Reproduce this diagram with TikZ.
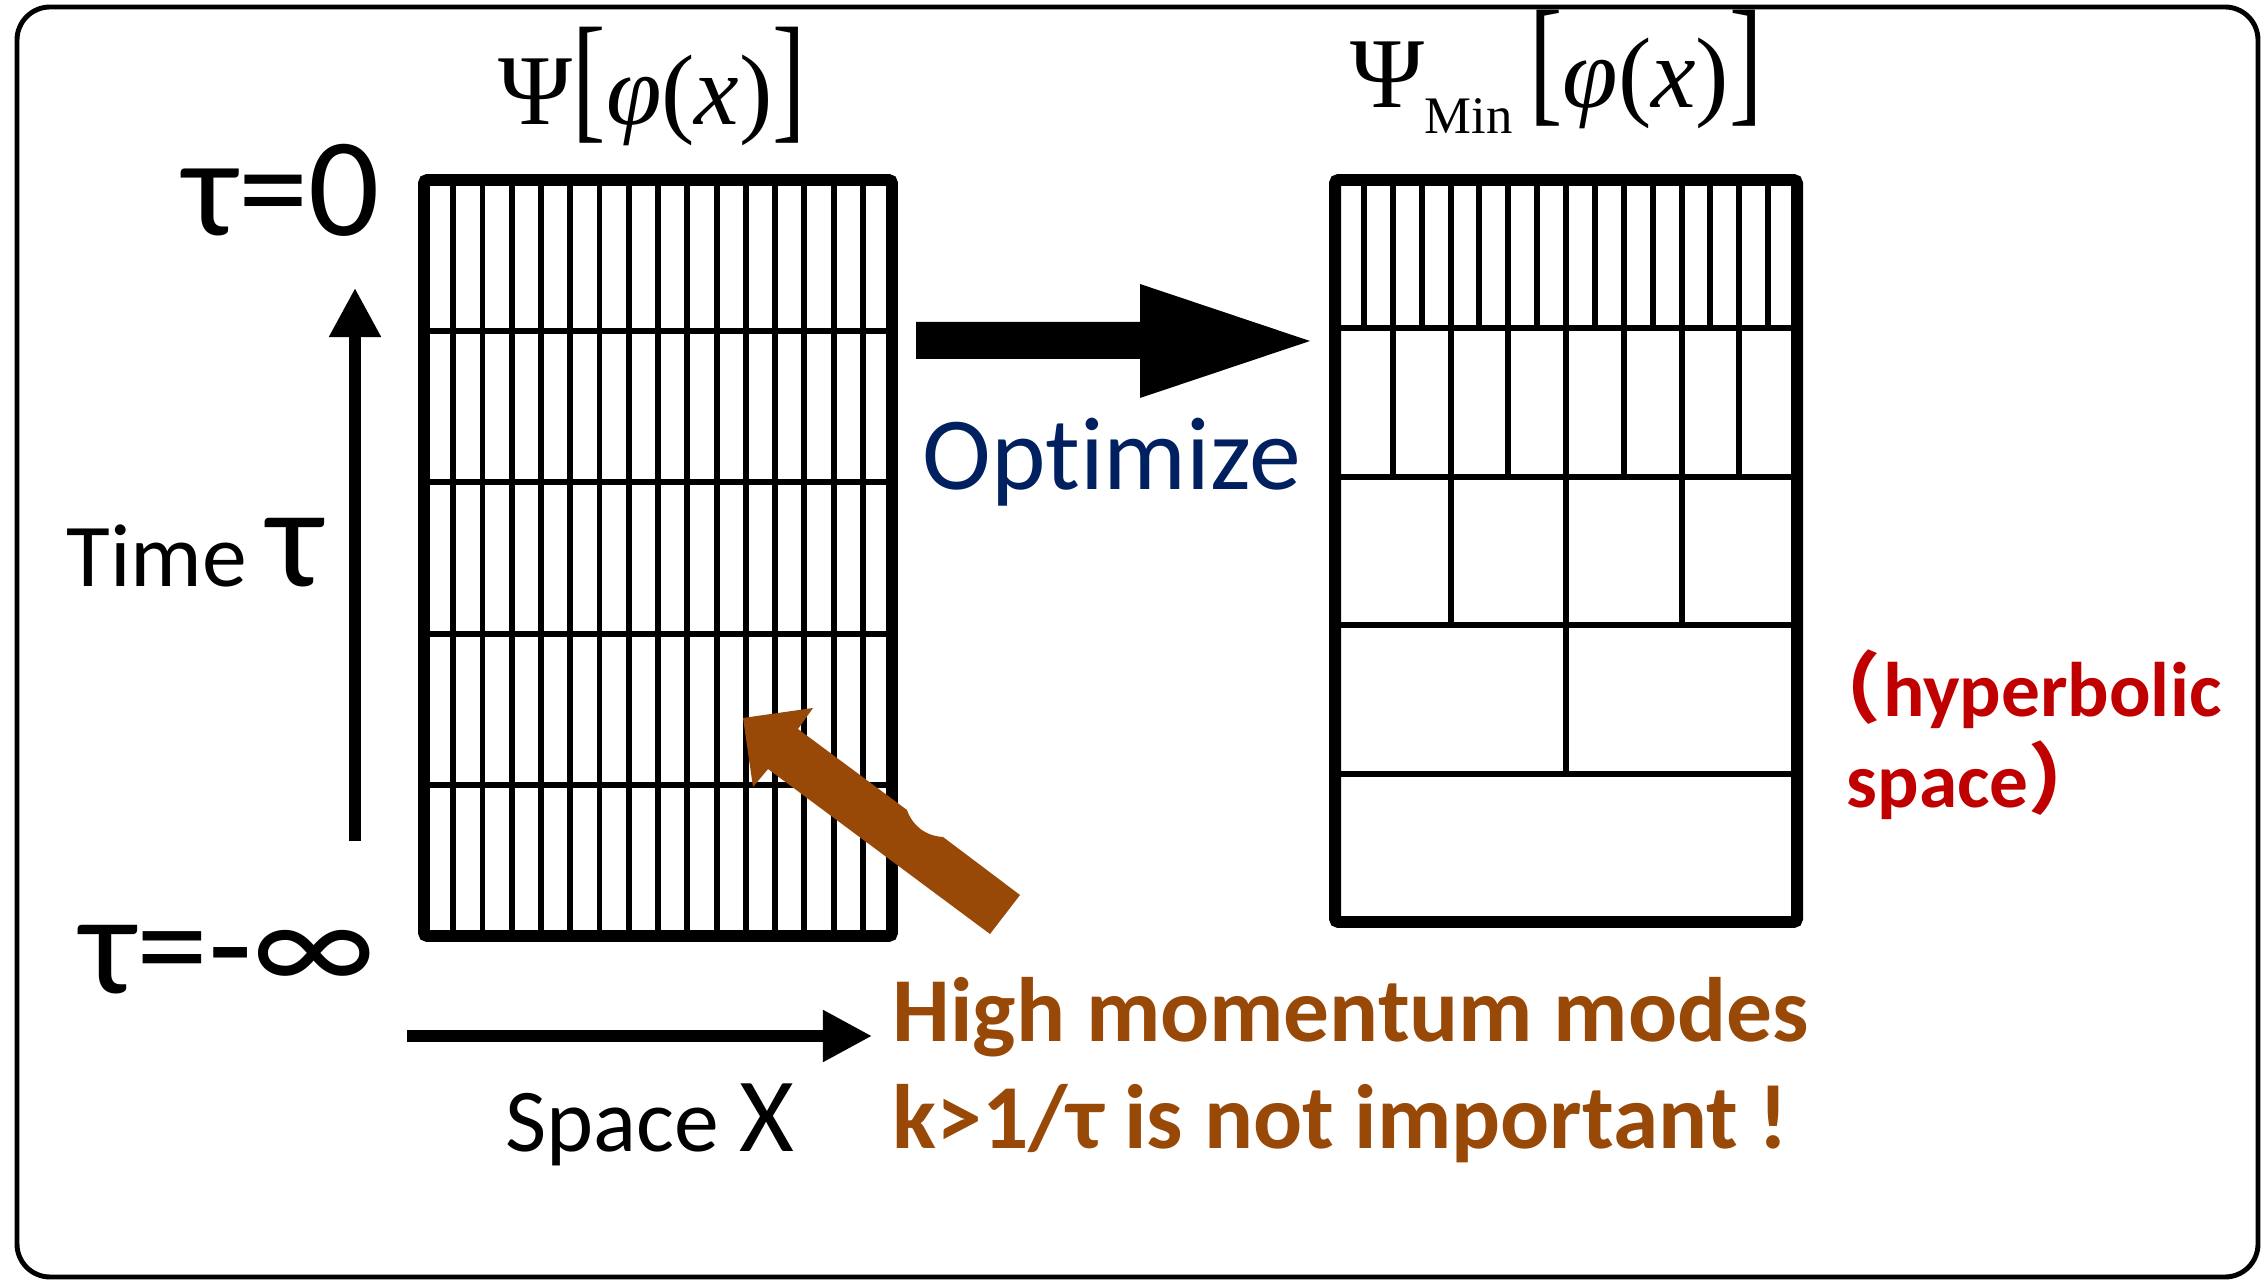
\documentclass[tikz,border=0pt]{standalone}
\usepackage{fontspec}
\setmainfont{Carlito}[Ligatures=NoCommon]
\newfontfamily\timesfont{Liberation Serif}
\newfontfamily\cjkfont{Noto Sans CJK SC}
\usetikzlibrary{arrows.meta, positioning, calc}
\definecolor{optBlue}{HTML}{002060}
\definecolor{modeBrown}{HTML}{984807}
\definecolor{hypRed}{HTML}{C00000}

\begin{document}
\begin{tikzpicture}[
    x=0.01cm, y=-0.01cm,
    border/.style={line width=3.4pt, rounded corners=1pt},
    cell/.style={line width=1.7pt},
    axisarr/.style={-{Triangle[length=14pt, width=14pt]}, line width=3.2pt},
    lbl/.style={inner sep=0pt, anchor=base west},
  ]
    \useasboundingbox (0,0) rectangle (2261,1280);
    \draw[line width=1.4pt, rounded corners=0.33cm] (17,7) rectangle (2258,1277);

    % uniform lattice
    \foreach \i in {1,...,15}
      \draw[cell] ({424+\i*29.25},180) -- ({424+\i*29.25},936);
    \foreach \j in {1,...,4}
      \draw[cell] (424,{180+\j*151.2}) -- (892,{180+\j*151.2});
    \draw[border] (424,180) rectangle (892,936);

    % coarse-grained lattice
    \foreach \n [count=\j from 0] in {16,8,4,2} {
      \pgfmathtruncatemacro{\last}{\n-1}
      \foreach \k in {1,...,\last}
        \draw[cell] ({1335+\k*462/\n},{180+\j*148.4}) -- ({1335+\k*462/\n},{180+(\j+1)*148.4});
    }
    \foreach \j in {1,...,4}
      \draw[cell] (1335,{180+\j*148.4}) -- (1797,{180+\j*148.4});
    \draw[border] (1335,180) rectangle (1797,922);

    \node[lbl, font=\timesfont\fontsize{28.5}{32}\selectfont] (psiLabel) at (498,125)
      {Ψ\scalebox{1}[1.4]{[}\textit{φ}(\textit{x})\scalebox{1}[1.4]{]}};
    \node[lbl, font=\timesfont\fontsize{28.5}{32}\selectfont] (psiMinLabel) at (1350,108)
      {Ψ\raisebox{-0.25cm}{\fontsize{15}{16}\selectfont Min}\,\scalebox{1}[1.4]{[}\textit{φ}(\textit{x})\scalebox{1}[1.4]{]}};

    \node[lbl, font=\fontsize{40}{44}\selectfont] (tauTop) at (183,236) {τ=0};
    \node[lbl, font=\fontsize{41}{44}\selectfont] (tauBottom) at (80,994) {τ=-∞};
    \node[lbl, font=\fontsize{25.5}{28}\selectfont] (timeLabel) at (66,587)
      {Time {\fontsize{41}{44}\selectfont τ}};
    \node[lbl, font=\fontsize{25.5}{28}\selectfont] (spaceLabel) at (505,1151)
      {Space {\fontsize{30}{32}\selectfont X}};

    \coordinate (timeFrom) at (355,841);
    \coordinate (timeTo) at (355,288);
    \draw[axisarr] (timeFrom) -- (timeTo);
    \coordinate (spaceFrom) at (407,1036);
    \coordinate (spaceTo) at (872,1036);
    \draw[axisarr] (spaceFrom) -- (spaceTo);

    % block arrows
    \fill (916,322) -- (1140,322) -- (1140,284) -- (1310,341) -- (1140,398)
      -- (1140,359) -- (916,359) -- cycle;
    \fill[modeBrown] (743,718) -- (813,708) -- (798,729) -- (907,810)
      .. controls (912,825) and (925,836) .. (943,837) -- (1020,895)
      -- (990,934) -- (768,769) -- (753,787) -- cycle;

    \node[lbl, text=optBlue, font=\fontsize{29.5}{32}\selectfont] (optLabel) at (922,490) {Optimize};
    \node[lbl, text=modeBrown, font=\bfseries\fontsize{26}{30.7}\selectfont, align=left] (modesLabel)
      at (892,1149) {High momentum modes\\k>1/τ is not important !};
    \node[lbl, text=hypRed, font=\bfseries\fontsize{22}{25.9}\selectfont, align=left] (hypLabel)
      at (1846,808) {{\cjkfont\hspace*{-0.43cm}（}\hspace{0.02cm}hyperbolic\\space{\cjkfont ）}};
  \end{tikzpicture}
\end{document}
